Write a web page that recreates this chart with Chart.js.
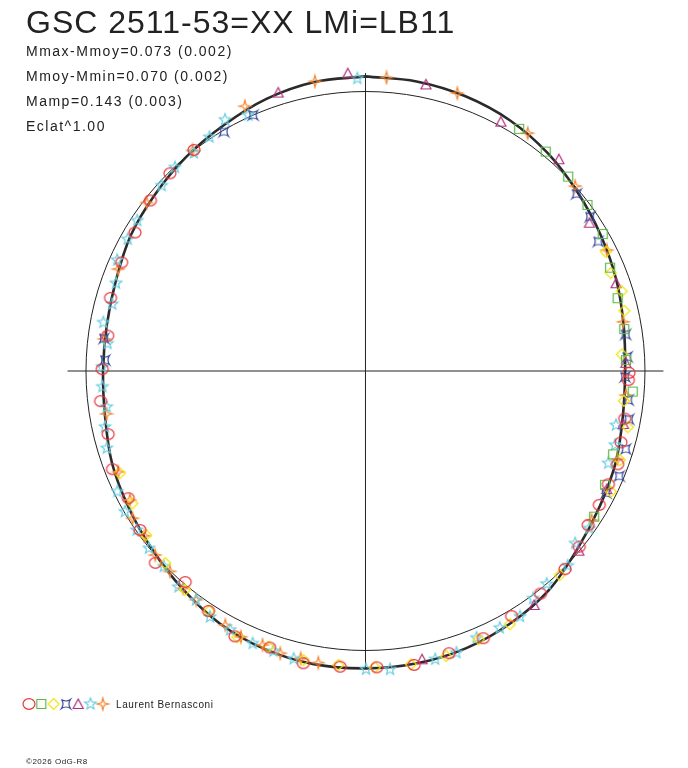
<!DOCTYPE html>
<html>
<head>
<meta charset="utf-8">
<script src="https://cdn.jsdelivr.net/npm/chart.js@4.4.1/dist/chart.umd.min.js"></script>
<style>
  body { margin: 0; background: #fff; }
  #wrap { position: relative; width: 688px; height: 768px; overflow: hidden; }
  #chart { position: absolute; left: 0; top: 0; }
  .txt { position: absolute; white-space: nowrap; color: #222; font-family: "Liberation Sans", Arial, sans-serif; line-height: 1; }
  #title { left: 26px; top: 6px; font-size: 32px; letter-spacing: 1px; }
  .stat { left: 26px; font-size: 14px; letter-spacing: 1.5px; }
  #author { left: 116px; top: 700px; font-size: 10px; letter-spacing: 0.6px; }
  #copy { left: 26px; top: 758px; font-size: 8px; letter-spacing: 0.5px; }
</style>
</head>
<body>
<div id="wrap">
  <canvas id="chart" width="688" height="768"></canvas>
  <div class="txt" id="title">GSC 2511-53=XX LMi=LB11</div>
  <div class="txt stat" style="top:43.5px">Mmax-Mmoy=0.073 (0.002)</div>
  <div class="txt stat" style="top:68.5px">Mmoy-Mmin=0.070 (0.002)</div>
  <div class="txt stat" style="top:93.5px">Mamp=0.143 (0.003)</div>
  <div class="txt stat" style="top:118.5px">Eclat^1.00</div>
  <div class="txt" id="author">Laurent Bernasconi</div>
  <div class="txt" id="copy">©2026 OdG-R8</div>
</div>
<script>
// angles en degrés (phase x 360, sens horaire depuis le haut), rayon relatif au cercle de référence
const refRadius = 1.0;
const axisExtent = 1.066;

// courbe moyenne (trait noir)
const curveAngle = [0, 10, 20, 30, 40, 50, 60, 70, 80, 90, 100, 110, 120, 130, 140, 150, 160, 170,
  180, 190, 200, 210, 220, 230, 240, 250, 260, 270, 280, 290, 300, 310, 320, 330, 340, 350];
const curveRadius = [1.054, 1.052, 1.046, 1.035, 1.016, 0.992, 0.972, 0.955, 0.938, 0.929, 0.935, 0.953,
  0.968, 0.990, 1.022, 1.041, 1.055, 1.062, 1.064, 1.065, 1.058, 1.043, 1.018, 0.995, 0.978, 0.965,
  0.946, 0.939, 0.940, 0.950, 0.970, 0.983, 0.999, 1.015, 1.036, 1.050];

// sessions
const redAngle = [315.3, 308.4, 322.2, 301.0, 294.0, 286.0, 277.8, 270.4, 263.5, 256.2, 248.8, 241.8,
  234.8, 227.6, 220.5, 213.2, 206.2, 199.1, 192.0, 184.9, 177.8, 170.6, 163.5, 156.2, 149.2, 141.8,
  134.8, 129.4, 124.7, 119.8, 115.0, 110.3, 105.6, 100.4, 92.0, 90.4];
const redRadius = [0.995, 0.982, 1.001, 0.962, 0.955, 0.949, 0.931, 0.942, 0.954, 0.948, 0.971, 0.963,
  0.987, 1.018, 0.993, 1.026, 1.058, 1.047, 1.069, 1.062, 1.061, 1.066, 1.053, 1.045, 1.021, 1.013,
  1.006, 0.990, 0.969, 0.964, 0.959, 0.962, 0.949, 0.943, 0.941, 0.943];

const greenAngle = [32.4, 39.4, 46.2, 53.2, 60.0, 67.1, 73.9, 80.8, 87.6, 94.4, 108.6, 115.4, 122.5];
const greenRadius = [1.026, 1.016, 1.005, 0.992, 0.980, 0.950, 0.939, 0.938, 0.933, 0.959, 0.935, 0.949, 0.970];

const yellowAngle = [63.6, 68.2, 72.7, 76.9, 86.3, 96.6, 102.1, 109.3, 116.2, 136.4, 150.3, 157.1, 164.2,
  171.2, 178.2, 185.3, 192.1, 199.4, 205.7, 213.1, 219.5, 226.2, 233.2, 240.4, 247.4];
const yellowRadius = [0.960, 0.945, 0.960, 0.951, 0.919, 0.931, 0.960, 0.965, 0.979, 1.008, 1.043, 1.042,
  1.060, 1.062, 1.061, 1.056, 1.058, 1.046, 1.057, 1.024, 1.015, 0.993, 0.980, 0.959, 0.952];

const blueAngle = [336.3, 329.4, 50.0, 55.5, 60.9, 82.0, 86.9, 91.3, 96.3, 100.4, 106.7, 112.5, 116.9, 277.1, 272.4];
const blueRadius = [1.000, 0.995, 0.986, 0.975, 0.953, 0.940, 0.938, 0.929, 0.946, 0.958, 0.972, 0.983, 0.965, 0.943, 0.933];

const purpleAngle = [356.6, 11.9, 342.6, 28.5, 42.4, 56.5, 70.7, 88.2, 101.6, 116.1, 130.1, 144.2, 168.9];
const purpleRadius = [1.067, 1.048, 1.044, 1.015, 1.026, 0.961, 0.950, 0.932, 0.942, 0.961, 0.998, 1.032, 1.051];

const cyanAngle = [358.4, 335.4, 330.8, 326.3, 321.8, 316.9, 312.3, 303.4, 299.0, 294.1, 289.4, 284.8,
  280.5, 276.1, 270.9, 266.6, 262.1, 257.9, 253.4, 244.1, 239.7, 235.2, 230.7, 225.9, 220.9, 216.5,
  212.3, 207.6, 202.5, 198.2, 194.0, 179.9, 175.3, 166.4, 162.1, 157.4, 152.4, 147.8, 143.6, 139.6,
  133.9, 129.4, 125.1, 110.8, 106.5, 102.2];
const cyanRadius = [1.047, 1.007, 1.030, 1.006, 0.993, 0.998, 0.986, 0.978, 0.973, 0.973, 0.946, 0.937,
  0.954, 0.928, 0.942, 0.943, 0.935, 0.953, 0.966, 0.987, 0.997, 0.997, 1.001, 1.005, 1.022, 1.019,
  1.041, 1.045, 1.055, 1.055, 1.061, 1.067, 1.071, 1.061, 1.059, 1.034, 1.037, 1.038, 1.011, 1.000,
  1.004, 0.971, 0.979, 0.929, 0.931, 0.917];

const orangeAngle = [4.1, 350.1, 18.3, 335.5, 321.9, 307.6, 292.4, 277.0, 260.6, 247.8, 241.3, 237.7,
  233.3, 228.8, 224.3, 220.0, 216.5, 208.9, 205.1, 200.6, 196.8, 192.7, 189.2, 34.3, 48.6, 63.4, 79.2,
  95.3, 109.3, 123.4];
const orangeRadius = [1.053, 1.052, 1.047, 1.041, 1.003, 0.988, 0.957, 0.942, 0.939, 0.955, 0.961, 0.986,
  0.987, 1.000, 1.002, 1.015, 1.018, 1.038, 1.050, 1.047, 1.055, 1.054, 1.057, 1.030, 1.000, 0.966, 0.939,
  0.936, 0.955, 0.969];

// polaire -> cartésien
function toXY(angles, radii) {
  return angles.map((a, i) => {
    const t = a * Math.PI / 180;
    return { x: radii[i] * Math.sin(t), y: radii[i] * Math.cos(t) };
  });
}

// symboles dessinés à la main (style du logiciel)
function makeGlyph(kind, color) {
  const c = document.createElement("canvas");
  c.width = 16; c.height = 16;
  const g = c.getContext("2d");
  g.translate(8, 8);
  g.strokeStyle = color;
  g.lineWidth = 1.2;
  g.beginPath();
  if (kind === "circle") {
    g.ellipse(0, 0, 6, 5.3, 0, 0, Math.PI * 2);
  } else if (kind === "square") {
    g.rect(-4.5, -4.5, 9, 9);
  } else if (kind === "diamond") {
    g.moveTo(0, -5.5); g.lineTo(5.5, 0); g.lineTo(0, 5.5); g.lineTo(-5.5, 0); g.closePath();
  } else if (kind === "quad") {
    g.moveTo(-4.5, -4.5);
    g.quadraticCurveTo(0, -1.5, 4.5, -4.5);
    g.quadraticCurveTo(1.5, 0, 4.5, 4.5);
    g.quadraticCurveTo(0, 1.5, -4.5, 4.5);
    g.quadraticCurveTo(-1.5, 0, -4.5, -4.5);
  } else if (kind === "triangle") {
    g.moveTo(0, -5); g.lineTo(5, 4.5); g.lineTo(-5, 4.5); g.closePath();
  } else if (kind === "star5") {
    for (let i = 0; i < 10; i++) {
      const r = i % 2 === 0 ? 6 : 2.6;
      const a = -Math.PI / 2 + i * Math.PI / 5;
      if (i === 0) g.moveTo(r * Math.cos(a), r * Math.sin(a));
      else g.lineTo(r * Math.cos(a), r * Math.sin(a));
    }
    g.closePath();
  } else if (kind === "star4") {
    for (let i = 0; i < 8; i++) {
      const r = i % 2 === 0 ? 6 : 1.8;
      const a = -Math.PI / 2 + i * Math.PI / 4;
      if (i === 0) g.moveTo(r * Math.cos(a), r * Math.sin(a));
      else g.lineTo(r * Math.cos(a), r * Math.sin(a));
    }
    g.closePath();
  }
  g.stroke();
  return c;
}

const sessions = [
  { angle: redAngle, radius: redRadius, glyph: makeGlyph("circle", "#e8343c") },
  { angle: greenAngle, radius: greenRadius, glyph: makeGlyph("square", "#5cb84a") },
  { angle: yellowAngle, radius: yellowRadius, glyph: makeGlyph("diamond", "#f2e40a") },
  { angle: blueAngle, radius: blueRadius, glyph: makeGlyph("quad", "#36499c") },
  { angle: purpleAngle, radius: purpleRadius, glyph: makeGlyph("triangle", "#b0307c") },
  { angle: cyanAngle, radius: cyanRadius, glyph: makeGlyph("star5", "#6acde0") },
  { angle: orangeAngle, radius: orangeRadius, glyph: makeGlyph("star4", "#f58834") },
];

// cercle de référence + axes
const polarFrame = {
  id: "polarFrame",
  beforeDatasetsDraw(chart) {
    const { ctx, scales: { x, y } } = chart;
    const cx = x.getPixelForValue(0), cy = y.getPixelForValue(0);
    ctx.save();
    ctx.strokeStyle = "#222";
    ctx.lineWidth = 1;
    ctx.beginPath();
    ctx.ellipse(cx, cy, x.getPixelForValue(refRadius) - cx, cy - y.getPixelForValue(refRadius), 0, 0, Math.PI * 2);
    ctx.moveTo(x.getPixelForValue(-axisExtent), cy);
    ctx.lineTo(x.getPixelForValue(axisExtent), cy);
    ctx.moveTo(cx, y.getPixelForValue(axisExtent));
    ctx.lineTo(cx, y.getPixelForValue(-axisExtent));
    ctx.stroke();
    ctx.restore();
  },
  afterDraw(chart) {
    // rangée de symboles de la légende
    const ctx = chart.ctx;
    sessions.forEach((s, i) => {
      ctx.drawImage(s.glyph, 29 + i * 12.3 - 8, 704 - 8);
    });
  },
};

function renderChart() {
  const curvePts = toXY(curveAngle, curveRadius);
  curvePts.push(curvePts[0]);

  const datasets = [
    {
      data: curvePts,
      showLine: true,
      borderColor: "#2a2a2a",
      borderWidth: 2.6,
      pointRadius: 0,
      tension: 0.35,
      order: 10,
    },
  ];
  sessions.forEach((s) => {
    datasets.push({
      data: toXY(s.angle, s.radius),
      pointStyle: s.glyph,
      pointRadius: 6,
      showLine: false,
      order: 1,
    });
  });

  new Chart(document.getElementById("chart").getContext("2d"), {
    type: "scatter",
    data: { datasets },
    options: {
      responsive: false,
      animation: false,
      clip: false,
      layout: { autoPadding: false, padding: { left: 2.15, right: 1.1, top: 35.6, bottom: 33.65 } },
      scales: {
        x: { type: "linear", min: -1.3, max: 1.15, display: false },
        y: { type: "linear", min: -1.3, max: 1.2, display: false },
      },
      plugins: { legend: { display: false }, tooltip: { enabled: false } },
    },
    plugins: [polarFrame],
  });
}

renderChart();
</script>
</body>
</html>
